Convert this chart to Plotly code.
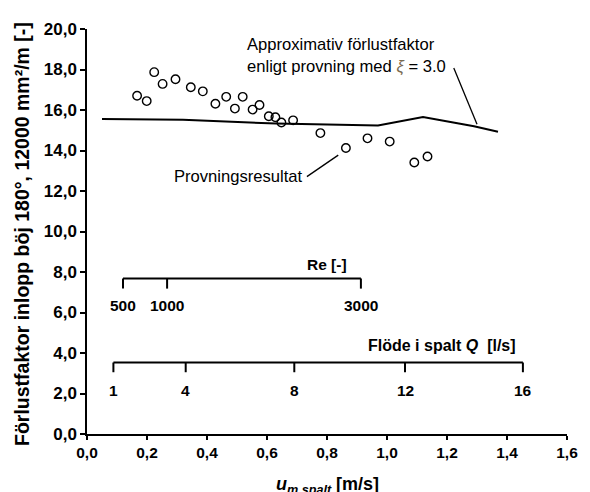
import plotly.graph_objects as go

# measured loss factor (circles)
u_meas = [0.167, 0.199, 0.224, 0.252, 0.295, 0.346, 0.386, 0.428, 0.464, 0.493,
          0.519, 0.552, 0.575, 0.606, 0.628, 0.648, 0.687, 0.778, 0.863, 0.935,
          1.009, 1.091, 1.135]
xi_meas = [16.70, 16.44, 17.87, 17.29, 17.52, 17.12, 16.92, 16.31, 16.65, 16.07,
           16.65, 16.02, 16.25, 15.69, 15.64, 15.38, 15.49, 14.86, 14.12, 14.60,
           14.44, 13.41, 13.70]

# approximate loss factor (line)
u_fit = [0.05, 0.32, 0.63, 0.97, 1.12, 1.29, 1.37]
xi_fit = [15.55, 15.52, 15.33, 15.23, 15.65, 15.20, 14.93]

# secondary scales drawn inside the plot, in u units
re_labels = ["500", "1000", "3000"]
re_u = [0.12, 0.267, 0.913]
q_labels = ["1", "4", "8", "12", "16"]
q_u = [0.088, 0.329, 0.691, 1.06, 1.453]

FONT = "Liberation Sans, Arial, sans-serif"


def scale_bar(fig, u_pos, labels, y_line, y_tick, y_text):
    fig.add_shape(type="line", x0=u_pos[0], x1=u_pos[-1], y0=y_line, y1=y_line,
                  line=dict(color="black", width=2))
    for u, lab in zip(u_pos, labels):
        fig.add_shape(type="line", x0=u, x1=u, y0=y_line, y1=y_tick,
                      line=dict(color="black", width=2))
        fig.add_annotation(x=u, y=y_text, text=f"<b>{lab}</b>", showarrow=False,
                           font=dict(size=15.5, color="black", family=FONT))


def main():
    fig = go.Figure()

    fig.add_trace(go.Scatter(x=u_fit, y=xi_fit, mode="lines",
                             line=dict(color="black", width=2), showlegend=False))
    fig.add_trace(go.Scatter(x=u_meas, y=xi_meas, mode="markers",
                             marker=dict(symbol="circle-open", size=8.5, color="black",
                                         line=dict(width=1.4, color="black")),
                             showlegend=False))

    scale_bar(fig, re_u, re_labels, 7.68, 7.18, 6.34)
    scale_bar(fig, q_u, q_labels, 3.53, 3.05, 2.13)

    fig.add_annotation(x=0.80, y=8.37, text="<b>Re [-]</b>", showarrow=False,
                       font=dict(size=15.5, color="black", family=FONT))
    fig.add_annotation(x=1.437, y=4.35, xanchor="right",
                       text="<b>Flöde i spalt <i>Q</i>&nbsp; [l/s]</b>", showarrow=False,
                       font=dict(size=16, color="black", family=FONT))

    # labels with leader lines
    fig.add_annotation(x=0.525, y=18.7, xanchor="left", align="left",
                       text="Approximativ förlustfaktor<br>enligt provning med "
                            "<i><span style='color:#7a6a50'>ξ</span></i> = 3.0",
                       showarrow=False, font=dict(size=16.6, color="black", family=FONT))
    fig.add_shape(type="line", x0=1.2226, y0=18.07, x1=1.30, y1=15.30,
                  line=dict(color="black", width=1.3))
    fig.add_annotation(x=0.283, y=12.7, xanchor="left", text="Provningsresultat",
                       showarrow=False, font=dict(size=16.6, color="black", family=FONT))
    fig.add_shape(type="line", x0=0.733, y0=12.71, x1=0.8375, y1=13.77,
                  line=dict(color="black", width=1.3))

    # axis titles
    fig.add_annotation(xref="paper", yref="paper", x=-0.134, y=0.493,
                       xanchor="center", yanchor="middle",
                       text="<b>Förlustfaktor inlopp böj 180°, 12000 mm²/m [-]</b>",
                       textangle=-90, showarrow=False,
                       font=dict(size=19.5, color="black", family=FONT))
    fig.add_annotation(xref="paper", yref="paper", x=0.5, y=-0.128,
                       xanchor="center", yanchor="middle",
                       text="<b><i>u</i></b><sub><b><i>m spalt</i></b></sub><b> [m/s]</b>",
                       showarrow=False, font=dict(size=18, color="black", family=FONT))

    fig.update_xaxes(range=[0, 1.6], dtick=0.2, tickformat=".1f",
                     showline=True, linecolor="black", linewidth=1.5,
                     ticks="outside", ticklen=4, tickcolor="black", tickwidth=1.5,
                     showgrid=False, zeroline=False,
                     tickfont=dict(size=15.5, color="black", family=FONT, weight="bold"))
    fig.update_yaxes(range=[0, 20], dtick=2, tickformat=".1f",
                     showline=True, linecolor="black", linewidth=1.5,
                     ticks="outside", ticklen=5, tickcolor="black", tickwidth=1.5,
                     showgrid=False, zeroline=False,
                     tickfont=dict(size=17, color="black", family=FONT, weight="bold"))

    # page body adds an 8px offset, so the figure is 582x484
    fig.update_layout(width=582, height=484,
                      margin=dict(l=79, r=21, t=12, b=58),
                      paper_bgcolor="white", plot_bgcolor="white",
                      separators=", ",
                      font=dict(family=FONT, color="black"))

    fig.write_html("out.html")


if __name__ == '__main__':
    main()
